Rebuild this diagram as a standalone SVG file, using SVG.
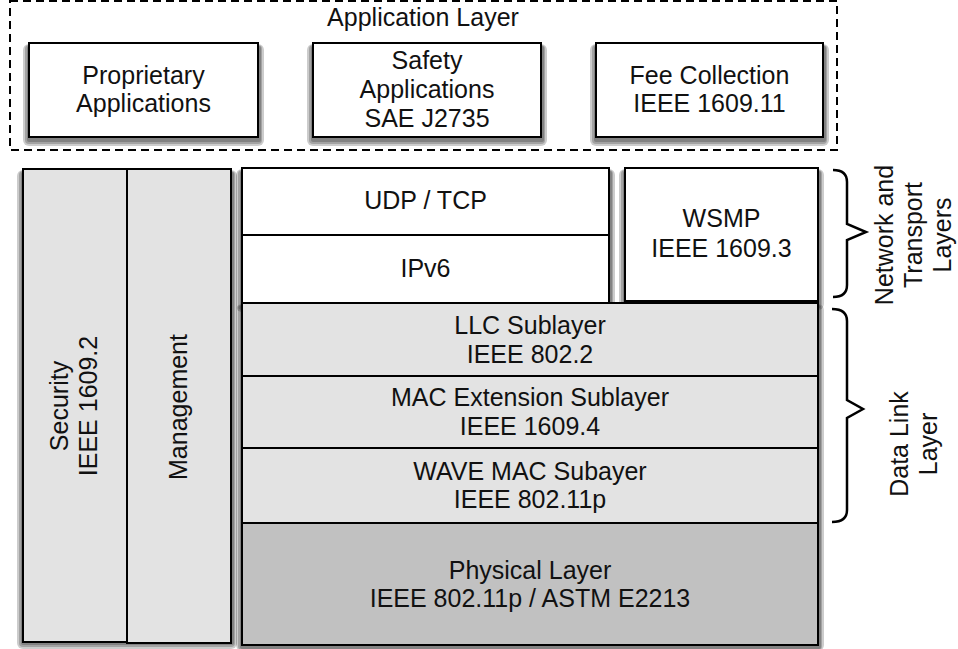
<svg xmlns="http://www.w3.org/2000/svg" width="958" height="649" viewBox="0 0 958 649">
  <style>
    text { font-family: "Liberation Sans", Arial, Helvetica, sans-serif; font-size: 25px; fill: #111; text-anchor: middle; }
    .box { stroke: #000; stroke-width: 2; }
    .white { fill: #fff; }
    .light { fill: #e3e3e3; }
    .dark { fill: #c1c1c1; }
    .sh { fill: #000; fill-opacity: 0.2; }
    .brace { fill: none; stroke: #000; stroke-width: 2.5; stroke-linejoin: miter; }
  </style>

  <rect width="958" height="649" fill="#fff"/>

  <!-- Application layer container -->
  <g id="application-layer">
    <rect x="10" y="1" width="827" height="149" fill="none" stroke="#000" stroke-width="2" stroke-dasharray="8 5"/>
    <text x="423" y="26">Application Layer</text>
  </g>

  <g id="proprietary-apps">
    <rect class="sh" x="23" y="44" width="241" height="102" rx="6"/>
    <rect class="sh" x="25" y="45" width="237" height="99" rx="4"/>
    <rect class="sh" x="27" y="46" width="234" height="96" rx="2"/>
    <rect class="box white" x="29" y="43" width="229" height="94"/>
    <text x="143.5" y="84">Proprietary</text>
    <text x="143.5" y="112">Applications</text>
  </g>

  <g id="safety-apps">
    <rect class="sh" x="307" y="44" width="240" height="102" rx="6"/>
    <rect class="sh" x="309" y="45" width="236" height="99" rx="4"/>
    <rect class="sh" x="311" y="46" width="233" height="96" rx="2"/>
    <rect class="box white" x="313" y="43" width="228" height="94"/>
    <text x="427" y="69">Safety</text>
    <text x="427" y="98">Applications</text>
    <text x="427" y="127">SAE J2735</text>
  </g>

  <g id="fee-collection">
    <rect class="sh" x="590" y="44" width="239" height="102" rx="6"/>
    <rect class="sh" x="592" y="45" width="235" height="99" rx="4"/>
    <rect class="sh" x="594" y="46" width="232" height="96" rx="2"/>
    <rect class="box white" x="596" y="43" width="227" height="94"/>
    <text x="709.5" y="84">Fee Collection</text>
    <text x="709.5" y="112">IEEE 1609.11</text>
  </g>

  <!-- Side columns (one shadow under both) -->
  <g id="side-shadow">
    <rect class="sh" x="17" y="170" width="220" height="479" rx="6"/>
    <rect class="sh" x="19" y="171" width="216" height="476" rx="4"/>
    <rect class="sh" x="21" y="172" width="213" height="473" rx="2"/>
  </g>

  <g id="security">
    <rect class="box light" x="23" y="169" width="104" height="473"/>
    <text transform="translate(0,406) rotate(-90)" x="0" y="68">Security</text>
    <text transform="translate(0,406) rotate(-90)" x="0" y="97">IEEE 1609.2</text>
  </g>

  <g id="management">
    <rect class="box light" x="127" y="169" width="104" height="474"/>
    <text transform="translate(0,407) rotate(-90)" x="0" y="187">Management</text>
  </g>

  <!-- Network and transport -->
  <g id="udp-ipv6">
    <rect class="sh" x="236" y="169" width="379" height="143" rx="6"/>
    <rect class="sh" x="238" y="170" width="375" height="140" rx="4"/>
    <rect class="sh" x="240" y="171" width="372" height="137" rx="2"/>
    <rect class="box white" x="242" y="168" width="367" height="135"/>
    <line x1="242" y1="235" x2="609" y2="235" stroke="#000" stroke-width="2"/>
    <text x="425.5" y="209">UDP / TCP</text>
    <text x="425.5" y="277">IPv6</text>
  </g>

  <g id="wsmp">
    <rect class="sh" x="619" y="169" width="205" height="141" rx="6"/>
    <rect class="sh" x="621" y="170" width="201" height="138" rx="4"/>
    <rect class="sh" x="623" y="171" width="198" height="135" rx="2"/>
    <rect class="box white" x="625" y="168" width="193" height="133"/>
    <text x="721.5" y="227">WSMP</text>
    <text x="721.5" y="257">IEEE 1609.3</text>
  </g>

  <!-- Data link and physical stack -->
  <g id="lower-stack-shadow">
    <rect class="sh" x="236" y="304" width="588" height="347" rx="6"/>
    <rect class="sh" x="238" y="305" width="584" height="345" rx="4"/>
    <rect class="sh" x="240" y="306" width="581" height="343" rx="2"/>
  </g>

  <g id="llc">
    <rect class="box light" x="242" y="303" width="576" height="73"/>
    <text x="530" y="334">LLC Sublayer</text>
    <text x="530" y="363">IEEE 802.2</text>
  </g>

  <g id="mac-extension">
    <rect class="box light" x="242" y="376" width="576" height="72"/>
    <text x="530" y="406">MAC Extension Sublayer</text>
    <text x="530" y="435">IEEE 1609.4</text>
  </g>

  <g id="wave-mac">
    <rect class="box light" x="242" y="448" width="576" height="75"/>
    <text x="530" y="480">WAVE MAC Subayer</text>
    <text x="530" y="508">IEEE 802.11p</text>
  </g>

  <g id="physical">
    <rect class="box dark" x="242" y="523" width="576" height="122"/>
    <text x="530" y="579">Physical Layer</text>
    <text x="530" y="607">IEEE 802.11p / ASTM E2213</text>
  </g>

  <!-- Braces and their labels -->
  <g id="connectors">
    <path class="brace" d="M833,170 Q847,170 847,182 L847,224 L866,232 L847,240 L847,285 Q847,297 833,297"/>
    <path class="brace" d="M832,309 Q847,309 847,321 L847,400 L863,409 L847,418 L847,510 Q847,522 832,522"/>
  </g>

  <g id="network-transport-label">
    <text transform="translate(0,235) rotate(-90)" x="0" y="893">Network and</text>
    <text transform="translate(0,235) rotate(-90)" x="0" y="922">Transport</text>
    <text transform="translate(0,235) rotate(-90)" x="0" y="951">Layers</text>
  </g>

  <g id="data-link-label">
    <text transform="translate(0,444) rotate(-90)" x="0" y="908">Data Link</text>
    <text transform="translate(0,444) rotate(-90)" x="0" y="937">Layer</text>
  </g>
</svg>
